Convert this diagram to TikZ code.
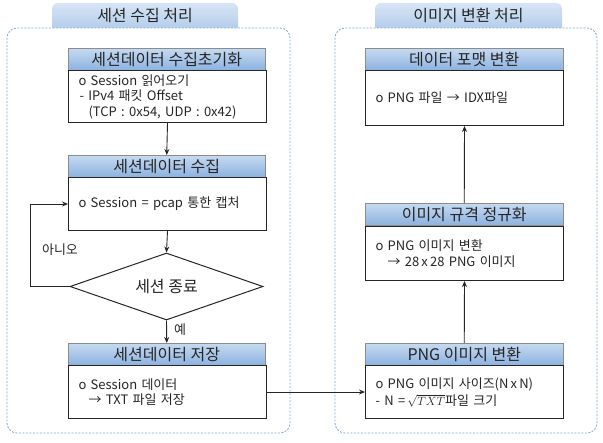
\documentclass[tikz,border=0pt]{standalone}
\usepackage{fontspec}
\setmainfont{Noto Sans CJK KR}
\usetikzlibrary{shapes.geometric,arrows.meta}
\definecolor{hdrtop}{HTML}{C6DAF1}
\definecolor{hdrbot}{HTML}{8CB2E0}
\definecolor{tabtop}{HTML}{D7E5F5}
\definecolor{tabbot}{HTML}{A9C6E8}
\definecolor{framec}{HTML}{86AACB}
\definecolor{txt}{HTML}{262626}
\begin{document}
\begin{tikzpicture}[x=1pt,y=-1pt,
 hdr/.style={draw=black!45, line width=0.5pt, top color=hdrtop, bottom color=hdrbot, minimum width=197pt, minimum height=22pt, inner sep=0pt, anchor=north west, font=\fontsize{16}{18}\selectfont, text=txt},
 bodybox/.style={draw=black!85, line width=1pt, fill=white, minimum width=197pt, anchor=north west, text width=178pt, align=left, inner xsep=10pt, inner ysep=0pt, font=\fontsize{13}{15.5}\selectfont, text=txt},
 frame/.style={draw=framec, line width=0.8pt, dash pattern=on 2pt off 1.5pt, rounded corners=10pt, fill=white},
 tab/.style={top color=tabtop, bottom color=tabbot, rounded corners=6pt},
 tabtext/.style={font=\fontsize{16}{19}\selectfont, text=txt},
 arr/.style={draw=black!85, line width=0.9pt, -{Stealth[length=6pt,width=5pt]}},
 lbl/.style={font=\fontsize{13}{15}\selectfont, text=txt}
]
\useasboundingbox (0,0) rectangle (603,443);
% tabs and frames
\shade[tab] (52,3) rectangle (238,36);
\shade[tab] (375,3) rectangle (562,36);
\path[frame] (7,28) rectangle (290,433);
\path[frame] (335,28) rectangle (597,433);
\node[tabtext] (t1) at (145,15.5) {세션 수집 처리};
\node[tabtext] (t2) at (468.5,15.5) {이미지 변환 처리};
% left column
\node[hdr] (h1) at (68,48) {세션데이터 수집초기화};
\node[bodybox, minimum height=52pt] (b1) at (68,70) {o Session 읽어오기\\\hspace*{1pt}- IPv4 패킷 Offset\\\hspace*{10pt}(TCP : 0x54, UDP : 0x42)};
\node[hdr] (h2) at (68,155) {세션데이터 수집};
\node[bodybox, minimum height=53pt] (b2) at (68,177) {o Session = pcap 통한 캡처};
\node[diamond, draw=black!85, line width=1pt, fill=white, minimum width=193pt, minimum height=67pt, inner sep=0pt, aspect=2.9, font=\fontsize{16}{18}\selectfont, text=txt] (d) at (166.5,286.5) {세션 종료};
\node[hdr] (h3) at (68,343) {세션데이터 저장};
\node[bodybox, minimum height=53pt] (b3) at (68,365) {o Session 데이터\\\hspace*{10pt}→ TXT 파일 저장};
% right column
\node[hdr, minimum width=198pt] (hA) at (365,48) {데이터 포맷 변환};
\node[bodybox, minimum width=198pt, minimum height=55pt] (bA) at (365,70) {o PNG 파일 → IDX파일};
\node[hdr, minimum width=198pt] (hB) at (365,203) {이미지 규격 정규화};
\node[bodybox, minimum width=198pt, minimum height=54pt] (bB) at (365,226) {o PNG 이미지 변환\\\hspace*{12pt}→ 28\,x\,28 PNG 이미지};
\node[hdr, minimum width=198pt] (hC) at (365,343) {PNG 이미지 변환};
\node[bodybox, minimum width=198pt, minimum height=53pt, font=\fontsize{13}{17}\selectfont] (bC) at (365,365) {o PNG 이미지 사이즈(N\,x\,N)\\- N =\,{\fontsize{11.5}{13}\selectfont$\sqrt{TXT}$}파일 크기};
% connectors
\draw[arr] (b1.south) -- (h2.north);
\draw[arr] (b2.south) -- (d.north);
\draw[arr] (d.south) -- (h3.north);
\coordinate (lp) at (30,286.5);
\draw[arr] (d.west) -- (lp) |- (b2.west);
\draw[arr] (b3.east) -- (bC.west);
\draw[arr] (hC.north) -- (bB.south);
\draw[arr] (hB.north) -- (bA.south);
% labels
\node[lbl] (no) at (60,250) {아니오};
\node[lbl] (yes) at (180,330) {예};
\end{tikzpicture}
\end{document}
